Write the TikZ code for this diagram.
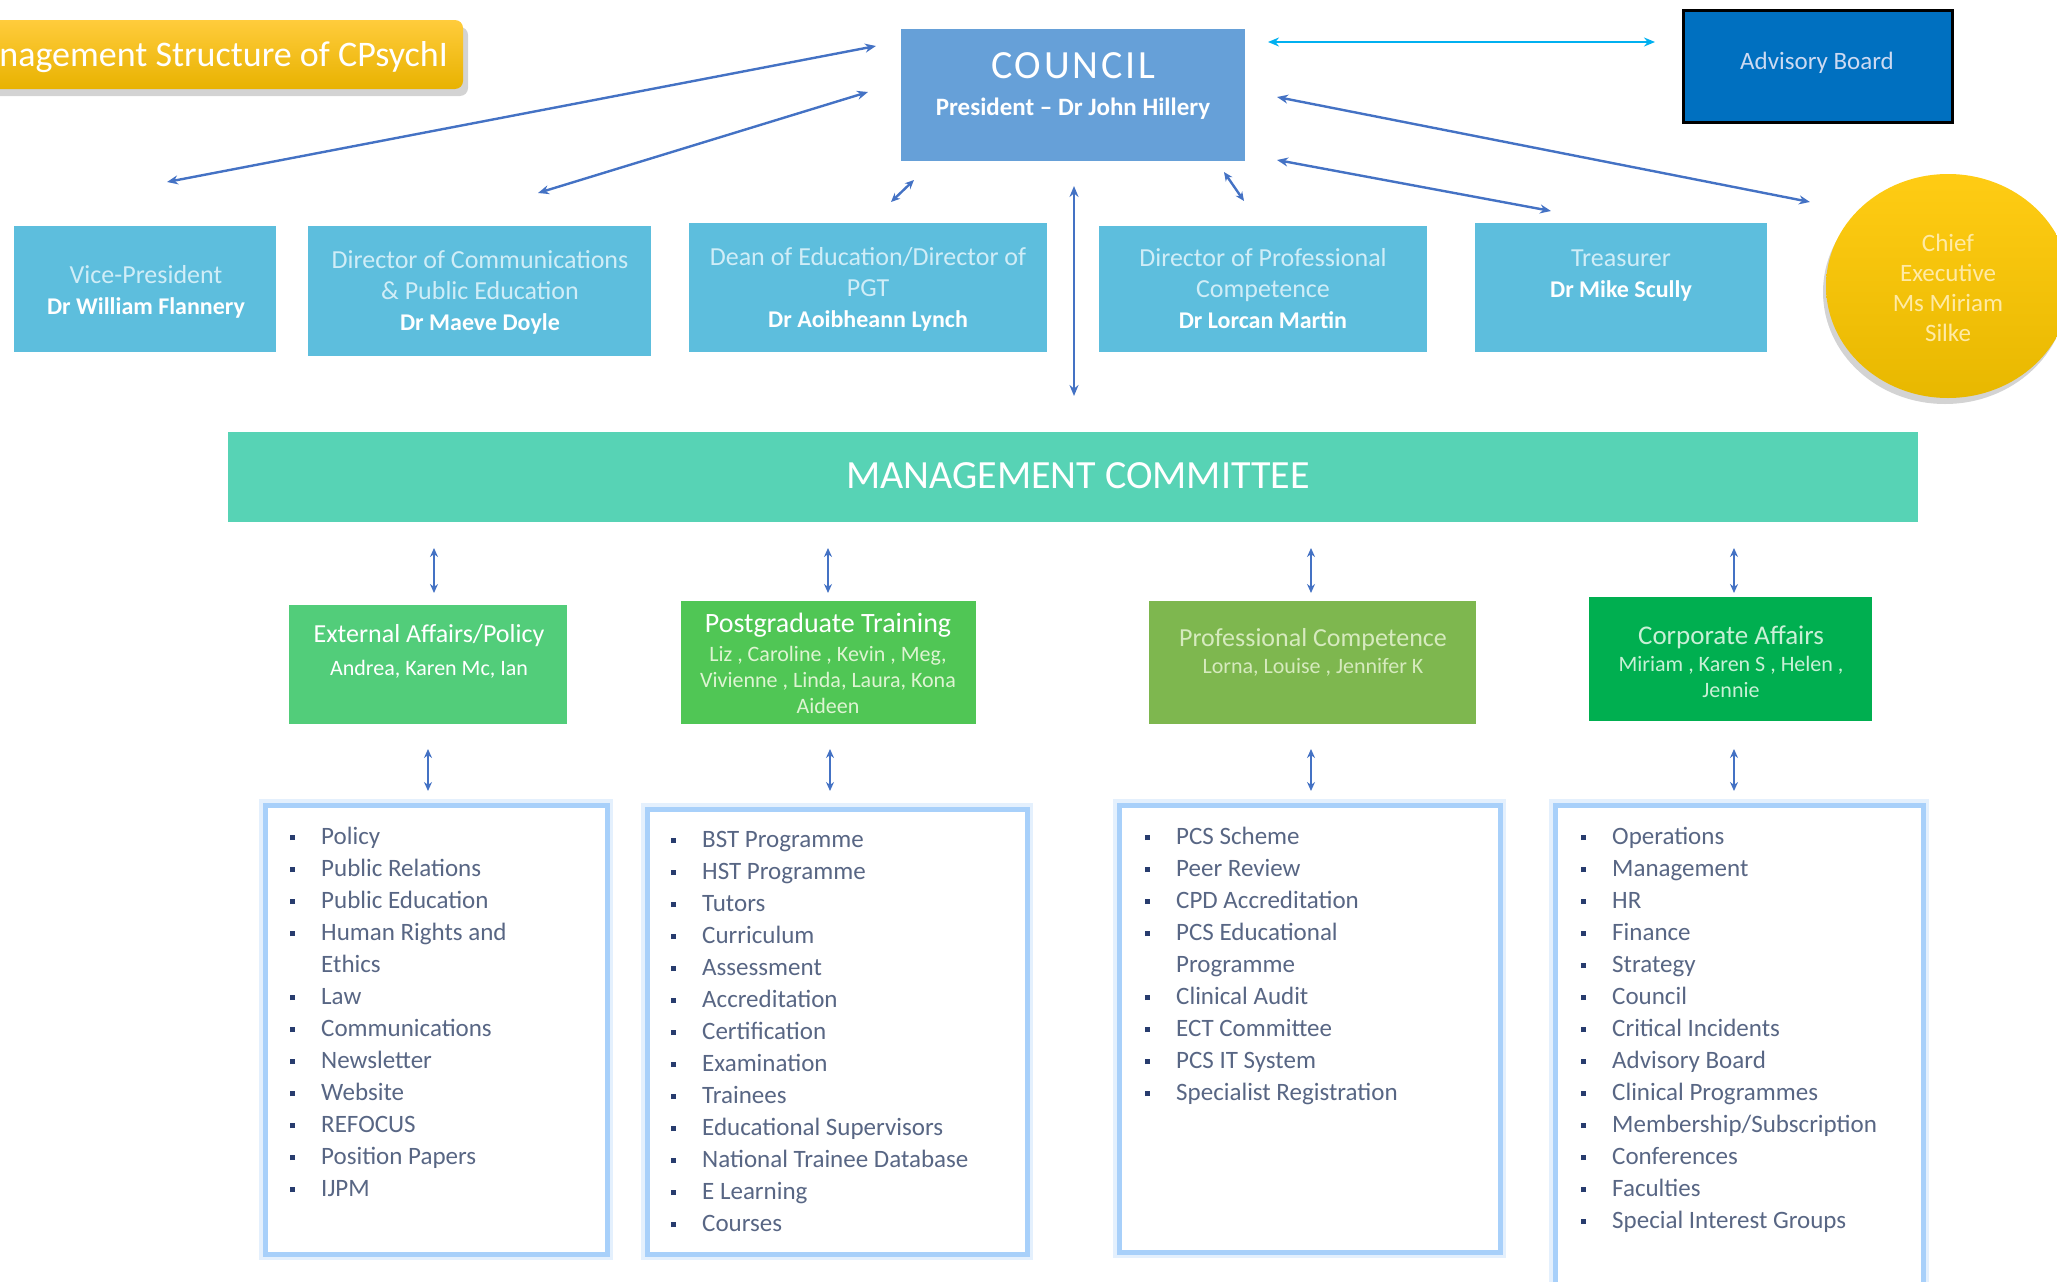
\documentclass[tikz,border=0pt]{standalone}
\usepackage{fontspec}
\setmainfont{Carlito}
\usetikzlibrary{arrows.meta,shadows,shapes.geometric}
\definecolor{titleTop}{RGB}{255,204,60}
\definecolor{titleBot}{RGB}{232,178,0}
\definecolor{councilC}{RGB}{102,160,216}
\definecolor{advC}{RGB}{0,112,192}
\definecolor{advT}{RGB}{205,218,242}
\definecolor{topC}{RGB}{93,190,221}
\definecolor{topT}{RGB}{208,237,247}
\definecolor{mgmtC}{RGB}{87,211,181}
\definecolor{extC}{RGB}{82,205,122}
\definecolor{pgC}{RGB}{80,198,85}
\definecolor{profC}{RGB}{126,183,79}
\definecolor{corpC}{RGB}{0,175,80}
\definecolor{paleG}{RGB}{222,244,210}
\definecolor{paleP}{RGB}{214,234,190}
\definecolor{paleC}{RGB}{200,240,214}
\definecolor{arrC}{RGB}{68,114,196}
\definecolor{cyanC}{RGB}{0,176,240}
\definecolor{listB}{RGB}{168,208,250}
\definecolor{listG}{RGB}{228,240,253}
\definecolor{listT}{RGB}{88,102,132}
\definecolor{bulC}{RGB}{40,60,110}
\definecolor{ceoTop}{RGB}{255,204,20}
\definecolor{ceoBot}{RGB}{232,184,0}
\definecolor{ceoT}{RGB}{255,234,165}
\newcommand\myfs[2]{\fontsize{#1}{#2}\selectfont}
\newcommand\mybul{\makebox[0pt][r]{\textcolor{bulC}{\rule[4pt]{5pt}{5pt}}\hspace{26pt}}}
\begin{document}
\begin{tikzpicture}[x=1pt,y=-1pt,
  >={Stealth[length=11pt,width=9pt]},
  conn/.style={<->, draw=arrC, line width=2.4pt},
  sconn/.style={<->, draw=arrC, line width=2.4pt, >={Stealth[length=9pt,width=8pt]}},
  cyconn/.style={<->, draw=cyanC, line width=2.6pt},
  box/.style={inner sep=0pt, outer sep=0pt, draw=none},
  topbox/.style={box, fill=topC},
  toptext/.style={align=center, text=topT, font=\myfs{26}{31}, inner sep=0pt},
  gtitle/.style={inner sep=0pt, font=\myfs{26}{30}},
  gnames/.style={align=center, font=\myfs{22}{26}, inner sep=0pt},
  listbox/.style={box, fill=white, draw=listB, line width=5pt, preaction={draw=listG, line width=12pt}},
  listtext/.style={text=listT, font=\myfs{25}{32}, inner sep=0pt, anchor=base west},
]
\useasboundingbox (0,0) rectangle (2057,1282);
\clip (0,0) rectangle (2057,1282);

% title
\node[box, rounded corners=8pt, minimum width=540pt, minimum height=69pt,
      top color=titleTop, bottom color=titleBot,
      drop shadow={shadow xshift=5pt, shadow yshift=-7pt, opacity=0.35}] (title) at (193,54.5) {};
\node[anchor=base east, text=white, inner sep=0pt, font=\myfs{36}{40}] (titleT) at (448,66) {Management Structure of CPsychI};

% council
\node[box, fill=councilC, minimum width=344pt, minimum height=132pt] (council) at (1073,95) {};
\node[text=white, inner sep=0pt, font=\myfs{40}{44}\addfontfeature{LetterSpace=7}] (councilT) at (1073,66) {COUNCIL};
\node[text=white, inner sep=0pt, font=\myfs{25}{30}\bfseries] (presT) at (1073,109) {President – Dr John Hillery};

% advisory board
\node[box, fill=advC, draw=black, line width=3pt, minimum width=269pt, minimum height=112pt] (adv) at (1817.5,66) {};
\node[text=advT, inner sep=0pt, font=\myfs{25}{30}] (advT) at (1817,63) {Advisory Board};

% top row
\node[topbox, minimum width=262pt, minimum height=126pt] (vp) at (145,289) {};
\node[toptext] (vpT) at (146,292) {Vice-President\\{\color{white}\bfseries\myfs{24}{31}Dr William Flannery}};
\node[topbox, minimum width=343pt, minimum height=130pt] (dc) at (479.5,291) {};
\node[toptext] (dcT) at (480,292) {Director of Communications\\\& Public Education\\{\color{white}\bfseries\myfs{24}{31}Dr Maeve Doyle}};
\node[topbox, minimum width=358pt, minimum height=129pt] (dean) at (868,287.5) {};
\node[toptext] (deanT) at (868,289) {Dean of Education/Director of\\PGT\\{\color{white}\bfseries\myfs{24}{31}Dr Aoibheann Lynch}};
\node[topbox, minimum width=328pt, minimum height=126pt] (dpc) at (1263,289) {};
\node[toptext] (dpcT) at (1263,289) {Director of Professional\\Competence\\{\color{white}\bfseries\myfs{24}{31}Dr Lorcan Martin}};
\node[topbox, minimum width=292pt, minimum height=129pt] (treas) at (1621,287.5) {};
\node[toptext] (treasT) at (1621,276) {Treasurer\\{\color{white}\bfseries\myfs{24}{31}Dr Mike Scully}};

% chief executive
\node[ellipse, box, minimum width=244pt, minimum height=224pt,
      top color=ceoTop, bottom color=ceoBot,
      drop shadow={shadow xshift=-3pt, shadow yshift=-6pt, opacity=0.35}] (ceo) at (1948,286) {};
\node[align=center, text=ceoT, inner sep=0pt, font=\myfs{25}{30}] (ceoTx) at (1948,288) {Chief\\Executive\\Ms Miriam\\Silke};

% connectors from council
\coordinate (a1s) at (876,46);   \coordinate (a1e) at (167,182);
\coordinate (a2s) at (868,92);   \coordinate (a2e) at (538,193);
\coordinate (a3s) at (914,180);  \coordinate (a3e) at (891,202);
\coordinate (a4s) at (1074,186); \coordinate (a4e) at (1074,396);
\coordinate (a5s) at (1224,172); \coordinate (a5e) at (1244,201);
\coordinate (a6s) at (1277,160); \coordinate (a6e) at (1551,211);
\coordinate (a7s) at (1277,97);  \coordinate (a7e) at (1810,202);
\coordinate (cys) at (1268,42);  \coordinate (cye) at (1655,42);
\draw[conn] (a1s) -- (a1e);
\draw[conn] (a2s) -- (a2e);
\draw[sconn] (a3s) -- (a3e);
\draw[conn] (a4s) -- (a4e);
\draw[sconn] (a5s) -- (a5e);
\draw[conn] (a6s) -- (a6e);
\draw[conn] (a7s) -- (a7e);
\draw[cyconn] (cys) -- (cye);

% management committee
\node[box, fill=mgmtC, minimum width=1690pt, minimum height=90pt] (mgmt) at (1073,477) {};
\node[text=white, inner sep=0pt, font=\myfs{40}{44}] (mgmtT) at (1078,476) {MANAGEMENT COMMITTEE};

% arrows committee -> green
\foreach \x [count=\i] in {434,828,1311,1734} {
  \coordinate (u\i s) at (\x,548); \coordinate (u\i e) at (\x,593);
  \draw[sconn] (u\i s) -- (u\i e);
}

% green boxes
\node[box, fill=extC, minimum width=278pt, minimum height=119pt] (ext) at (428,664.5) {};
\node[gtitle, text=white] (extT) at (429,636) {External Affairs/Policy};
\node[gnames, text=white] (extN) at (429,669) {Andrea, Karen Mc, Ian};

\node[box, fill=pgC, minimum width=295pt, minimum height=123pt] (pg) at (828.5,662.5) {};
\node[gtitle, text=white, font=\myfs{28}{30}] (pgT) at (828,625) {Postgraduate Training};
\node[gnames, text=paleG] (pgN) at (828,680) {Liz , Caroline , Kevin , Meg,\\Vivienne , Linda, Laura, Kona\\Aideen};

\node[box, fill=profC, minimum width=327pt, minimum height=123pt] (prof) at (1312.5,662.5) {};
\node[gtitle, text=paleP] (profT) at (1313,640) {Professional Competence};
\node[gnames, text=paleP] (profN) at (1313,667) {Lorna, Louise , Jennifer K};

\node[box, fill=corpC, minimum width=283pt, minimum height=124pt] (corp) at (1730.5,659) {};
\node[gtitle, text=paleC, font=\myfs{27}{30}] (corpT) at (1731,637) {Corporate Affairs};
\node[gnames, text=paleC] (corpN) at (1731,677) {Miriam , Karen S , Helen ,\\Jennie};

% arrows green -> lists
\foreach \x [count=\i] in {428,830,1311,1734} {
  \coordinate (v\i s) at (\x,749); \coordinate (v\i e) at (\x,791);
  \draw[sconn] (v\i s) -- (v\i e);
}

% list boxes
\node[listbox, minimum width=342pt, minimum height=449pt] (l1) at (436,1029.5) {};
\node[listbox, minimum width=380pt, minimum height=445pt] (l2) at (837,1031.5) {};
\node[listbox, minimum width=381pt, minimum height=447pt] (l3) at (1309.5,1028.5) {};
\node[listbox, minimum width=368pt, minimum height=500pt] (l4) at (1739,1055) {};

\foreach \t [count=\i from 0] in {{\mybul Policy},{\mybul Public Relations},{\mybul Public Education},{\mybul Human Rights and},{Ethics},{\mybul Law},{\mybul Communications},{\mybul Newsletter},{\mybul Website},{\mybul REFOCUS},{\mybul Position Papers},{\mybul IJPM}}
  \node[listtext] (la\i) at (321,844+32*\i) {\t};
\foreach \t [count=\i from 0] in {{\mybul BST Programme},{\mybul HST Programme},{\mybul Tutors},{\mybul Curriculum},{\mybul Assessment},{\mybul Accreditation},{\mybul Certification},{\mybul Examination},{\mybul Trainees},{\mybul Educational Supervisors},{\mybul National Trainee Database},{\mybul E Learning},{\mybul Courses}}
  \node[listtext] (lb\i) at (702,847+32*\i) {\t};
\foreach \t [count=\i from 0] in {{\mybul PCS Scheme},{\mybul Peer Review},{\mybul CPD Accreditation},{\mybul PCS Educational},{Programme},{\mybul Clinical Audit},{\mybul ECT Committee},{\mybul PCS IT System},{\mybul Specialist Registration}}
  \node[listtext] (lc\i) at (1176,844+32*\i) {\t};
\foreach \t [count=\i from 0] in {{\mybul Operations},{\mybul Management},{\mybul HR},{\mybul Finance},{\mybul Strategy},{\mybul Council},{\mybul Critical Incidents},{\mybul Advisory Board},{\mybul Clinical Programmes},{\mybul Membership/Subscription},{\mybul Conferences},{\mybul Faculties},{\mybul Special Interest Groups}}
  \node[listtext] (ld\i) at (1612,844+32*\i) {\t};
\end{tikzpicture}
\end{document}
